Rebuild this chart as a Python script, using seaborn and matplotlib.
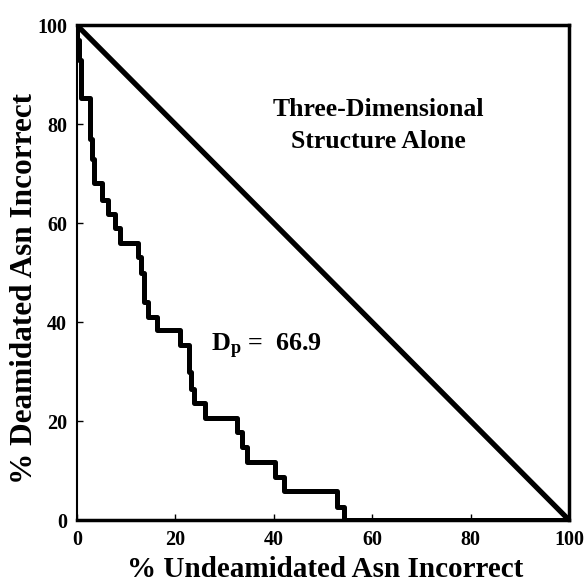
import matplotlib
matplotlib.use("Agg")
import matplotlib.pyplot as plt
import seaborn as sns
import pandas as pd

# step positions (% undeamidated incorrect) and the level reached after each drop
undeam_x = [0, 0, 0.4, 0.8, 2.6, 3.0, 3.5, 5.2, 6.4, 7.8, 8.8, 12.4, 13.0, 13.7,
            14.5, 16.3, 20.9, 22.8, 23.3, 23.8, 26.0, 32.6, 33.5, 34.6, 40.3,
            42.0, 52.9, 54.3, 100]
deam_y = [100, 97, 93, 85.3, 77, 73, 68, 64.6, 61.8, 59, 56, 53.2, 50, 44,
          41, 38.3, 35.3, 30, 26.5, 23.6, 20.6, 17.8, 14.7, 11.7, 8.7,
          5.8, 2.6, 0, 0]
diag_x = [0, 100]
diag_y = [100, 0]
ticks = [0, 20, 40, 60, 80, 100]

sns.set_theme(style="ticks")
plt.rcParams['font.family'] = ['Liberation Serif', 'DejaVu Serif']
plt.rcParams['font.weight'] = 'bold'
plt.rcParams['text.color'] = 'black'
plt.rcParams['axes.labelcolor'] = 'black'
plt.rcParams['xtick.color'] = 'black'
plt.rcParams['ytick.color'] = 'black'
plt.rcParams['mathtext.fontset'] = 'custom'
plt.rcParams['mathtext.rm'] = 'Liberation Serif:bold'
plt.rcParams['mathtext.it'] = 'Liberation Serif:bold'
plt.rcParams['mathtext.bf'] = 'Liberation Serif:bold'

fig, ax = plt.subplots(figsize=(5.86, 5.83), dpi=100)
fig.subplots_adjust(left=0.131, right=0.971, top=0.957, bottom=0.108)

curve = pd.DataFrame({'x': undeam_x, 'y': deam_y})
diag = pd.DataFrame({'x': diag_x, 'y': diag_y})
sns.lineplot(data=curve, x='x', y='y', estimator=None, sort=False,
             drawstyle='steps-post', color='black', linewidth=3.6, ax=ax)
sns.lineplot(data=diag, x='x', y='y', estimator=None, sort=False,
             color='black', linewidth=3.8, ax=ax)

ax.set_xlim(0, 100)
ax.set_ylim(0, 100)
ax.set_xticks(ticks)
ax.set_yticks(ticks)
ax.tick_params(direction='in', length=4, width=1, labelsize=14.5, pad=7)
for lab in ax.get_xticklabels() + ax.get_yticklabels():
    lab.set_fontweight('bold')
for side, w in [('left', 1.5), ('top', 2.5), ('right', 2.5), ('bottom', 2.5)]:
    ax.spines[side].set_visible(True)
    ax.spines[side].set_linewidth(w)
    ax.spines[side].set_color('black')

ax.set_xlabel('% Undeamidated Asn Incorrect', fontsize=21, fontweight='bold')
ax.set_ylabel('% Deamidated Asn Incorrect', fontsize=22.5, fontweight='bold')
ax.xaxis.set_label_coords(0.505, -0.073)
ax.yaxis.set_label_coords(-0.077, 0.467)

ax.text(61.2, 81.6, 'Three-Dimensional', ha='center', va='baseline',
        fontsize=18.5, fontweight='bold')
ax.text(61.2, 75.2, 'Structure Alone', ha='center', va='baseline',
        fontsize=18.5, fontweight='bold')
ax.text(27.3, 34.1, r'D$_{\mathrm{p}}$ =  66.9', ha='left', va='baseline',
        fontsize=18.8, fontweight='bold')

plt.savefig('out.png', dpi=100)
